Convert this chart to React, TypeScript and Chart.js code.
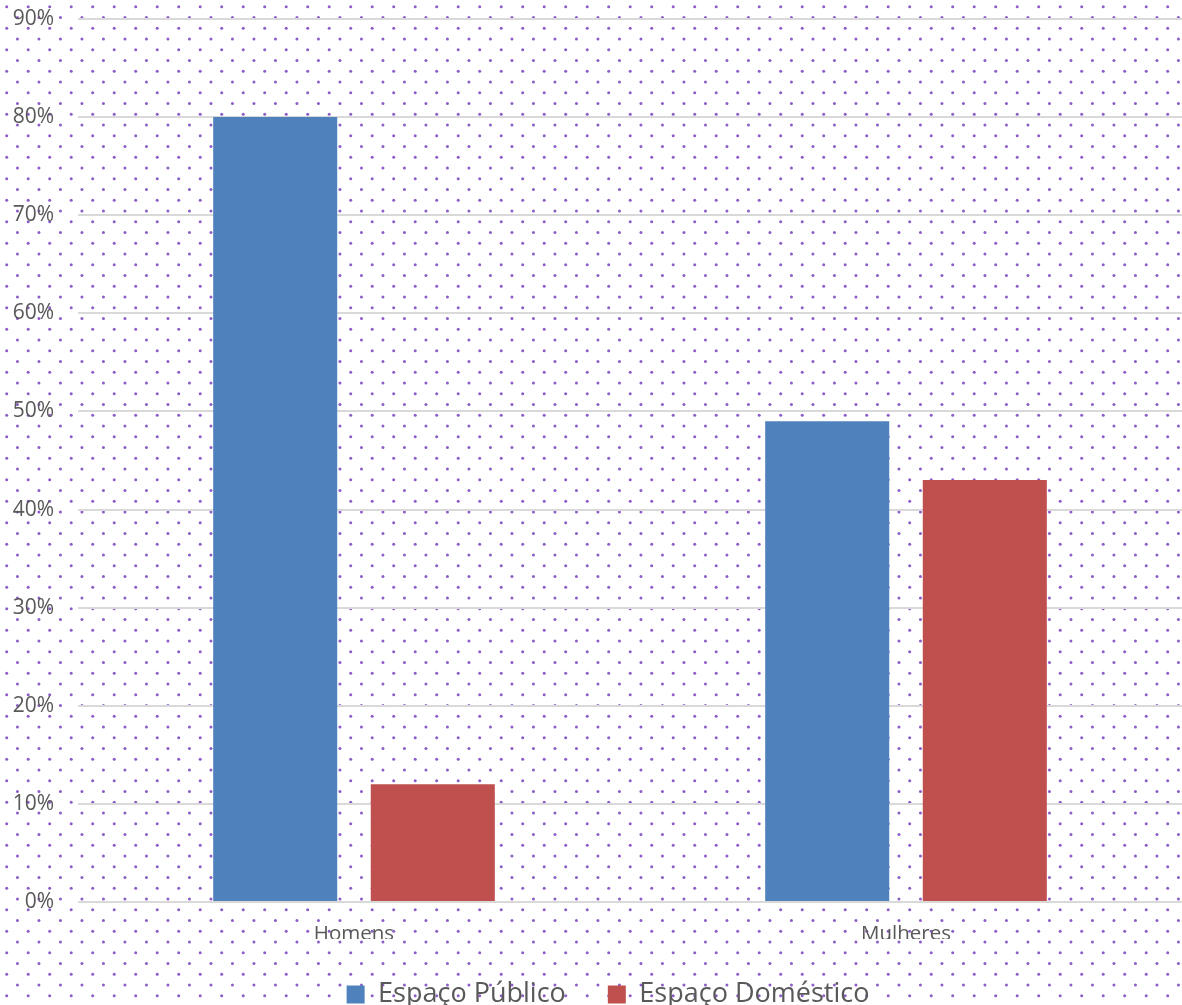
import React, { useEffect, useRef } from "react";
import { Chart, registerables } from "chart.js";

Chart.register(...registerables);

const categories = ["Homens", "Mulheres"];
const seriesNames = ["Espaço Público", "Espaço Doméstico"];
const publicoValues = [80, 49];
const domesticoValues = [12, 43];
const yTicks = [0, 10, 20, 30, 40, 50, 60, 70, 80, 90];

const FONT = "'Open Sans', 'Liberation Sans', sans-serif";
const TEXT = "#595959";

const dotsPlugin = {
  id: "dots",
  beforeDraw(chart: any) {
    const { ctx, width, height } = chart;
    ctx.save();
    ctx.fillStyle = "#ffffff";
    ctx.fillRect(0, 0, width, height);
    const step = 21.5;
    ctx.fillStyle = "#8c5cc8";
    for (let y = 6.7; y < height + step; y += step) {
      for (let x = 6.7; x < width + step; x += step) {
        ctx.beginPath();
        ctx.arc(x, y, 1.5, 0, Math.PI * 2);
        ctx.fill();
        ctx.beginPath();
        ctx.arc(x + step / 2, y + step / 2, 1.5, 0, Math.PI * 2);
        ctx.fill();
      }
    }
    ctx.restore();
  },
};

const legendShift = {
  id: "legendShift",
  afterLayout(chart: any) {
    if (chart.legend) {
      chart.legend.left += 17;
      chart.legend.right += 17;
    }
  },
};

export default function App() {
  const ref = useRef<HTMLCanvasElement | null>(null);
  useEffect(() => {
    document.body.style.margin = "0";
    const chart = new Chart(ref.current as HTMLCanvasElement, {
      type: "bar",
      data: {
        labels: categories,
        datasets: [
          {
            label: seriesNames[0],
            data: publicoValues,
            backgroundColor: "#4F81BD",
            categoryPercentage: 0.571,
            barPercentage: 0.787,
          },
          {
            label: seriesNames[1],
            data: domesticoValues,
            backgroundColor: "#C0504D",
            categoryPercentage: 0.571,
            barPercentage: 0.787,
          },
        ],
      },
      options: {
        animation: false,
        responsive: false,
        layout: { padding: { top: 19, left: 0, right: 0, bottom: 0 } },
        plugins: {
          tooltip: { enabled: false },
          legend: {
            position: "bottom",
            labels: {
              boxWidth: 18,
              boxHeight: 18,
              padding: 42,
              color: TEXT,
              font: { family: FONT, size: 27 },
            },
          },
        },
        scales: {
          x: {
            grid: { display: false, drawTicks: false },
            border: { display: false },
            ticks: { color: TEXT, font: { family: FONT, size: 20.5 }, padding: 20 },
            afterFit(scale: any) {
              scale.height = 37;
            },
          },
          y: {
            min: 0,
            max: 90,
            afterBuildTicks(scale: any) {
              scale.ticks = yTicks.map((v) => ({ value: v }));
            },
            grid: { color: "#d9d9d9", lineWidth: 2, drawTicks: false },
            border: { display: false },
            ticks: {
              color: TEXT,
              font: { family: FONT, size: 21 },
              padding: 24,
              callback: (v: any) => v + "%",
            },
            afterFit(scale: any) {
              scale.width = 78;
              scale.paddingTop = 0;
              scale.paddingBottom = 0;
            },
          },
        },
      },
      plugins: [dotsPlugin, legendShift],
    });
    return () => chart.destroy();
  }, []);
  return (
    <div style={{ width: 1182, height: 1005, overflow: "hidden" }}>
      <canvas ref={ref} width={1182} height={1018} style={{ display: "block" }} />
    </div>
  );
}
